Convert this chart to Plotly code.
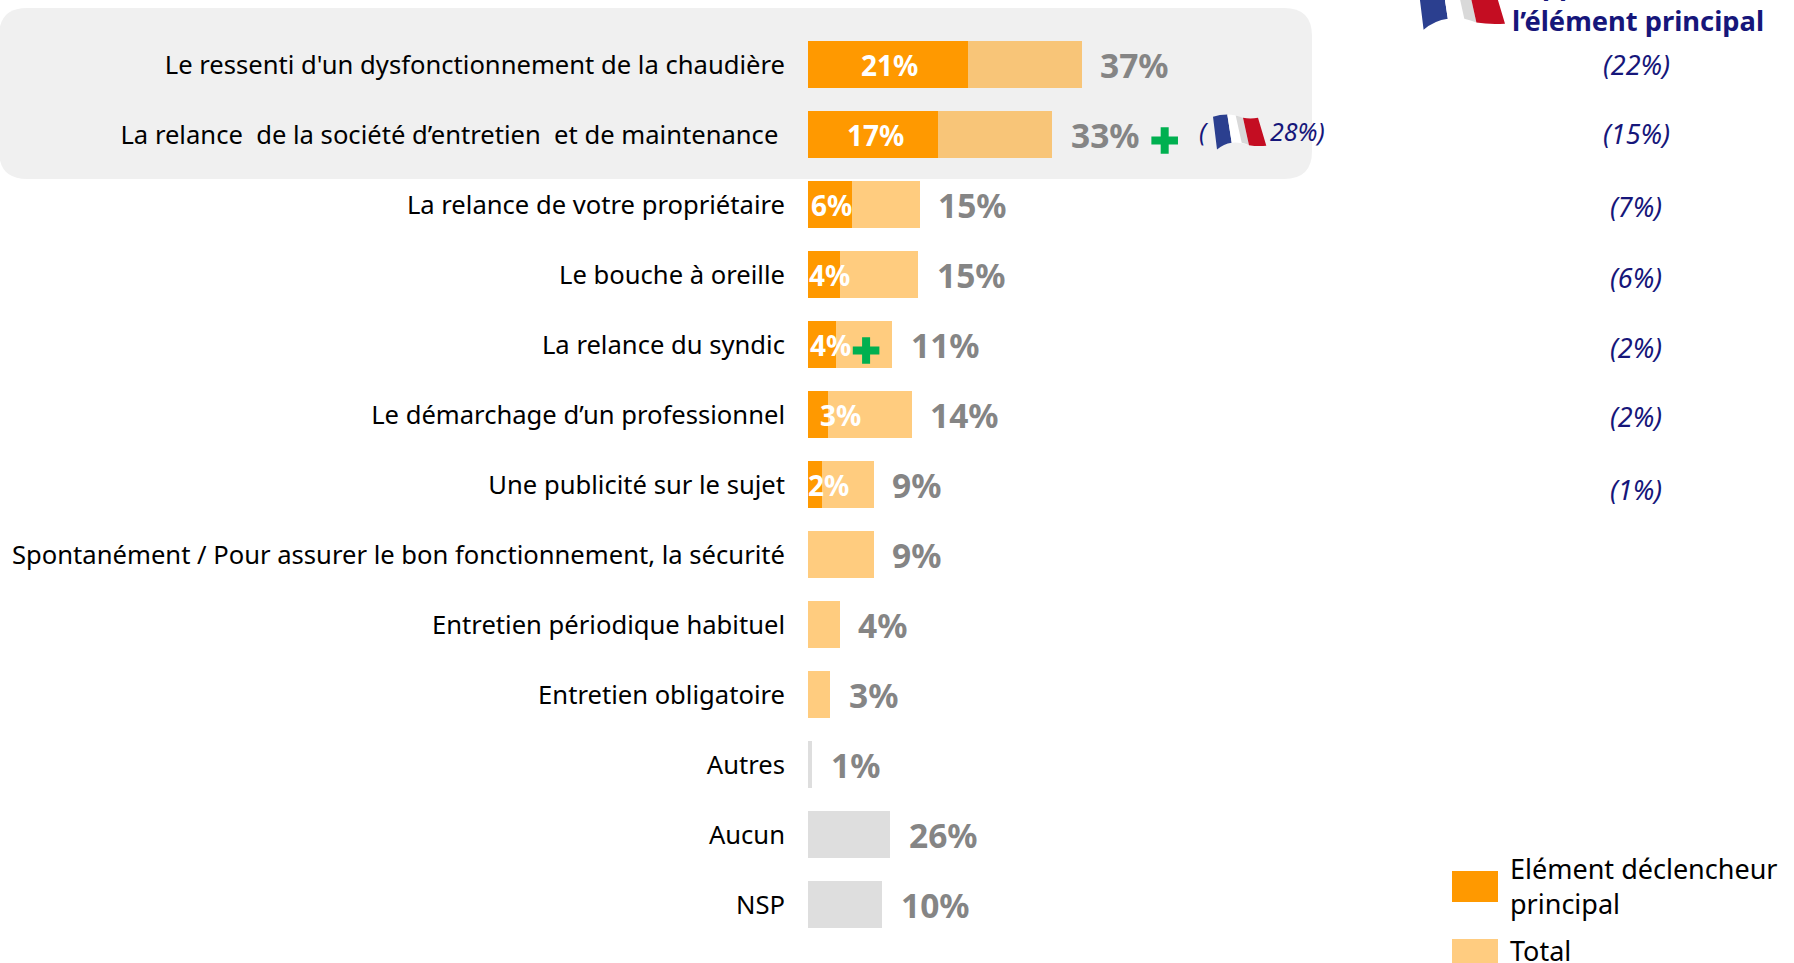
import plotly.graph_objects as go

W, H = 1794, 963
X0 = 808          # pixel of value 0
PX_PER_PCT = 7.4
ROW0, ROW_H = 64.5, 70

categories = [
    "Le ressenti d'un dysfonctionnement de la chaudière",
    "La relance\u00a0 de la société d’entretien\u00a0 et de maintenance\u00a0",
    "La relance de votre propriétaire",
    "Le bouche à oreille",
    "La relance du syndic",
    "Le démarchage d’un professionnel",
    "Une publicité sur le sujet",
    "Spontanément / Pour assurer le bon fonctionnement, la sécurité",
    "Entretien périodique habituel",
    "Entretien obligatoire",
    "Autres",
    "Aucun",
    "NSP",
]
# Bar lengths as drawn in the picture (Aucun is drawn shorter than its label)
total_len = [37, 33, 15.1, 14.9, 11.4, 14.05, 8.9, 8.9, 4.3, 3, 0.55, 11.1, 10]
main_len = [21.6, 17.6, 6, 4.3, 3.8, 2.7, 1.9]
total_labels = ["37%", "33%", "15%", "15%", "11%", "14%", "9%", "9%", "4%", "3%", "1%", "26%", "10%"]
main_labels = ["21%", "17%", "6%", "4%", "4%", "3%", "2%"]
main_label_px = [889, 875, 831, 829, 830, 840, 828]
france_labels = ["(22%)", "(15%)", "(7%)", "(6%)", "(2%)", "(2%)", "(1%)"]
france_dy = [0, -1, 2, 3, 3, 2, 5]
plus_rows = [1.085, 4.085]
plus_x = [48.2, 7.85]

ORANGE = "#FF9900"
LIGHT = "rgba(255,153,0,0.5)"
GREY = "#DEDEDE"
LABEL_GREY = "#858585"
NAVY = "#16167A"
FONT = "Noto Sans"

rows = list(range(len(categories)))
bar_colors = [LIGHT] * 10 + [GREY] * 3

fig = go.Figure()
fig.add_bar(y=rows, x=total_len, orientation="h", marker=dict(color=bar_colors, line_width=0),
            width=47.5 / ROW_H, showlegend=False, name="Total")
fig.add_bar(y=rows[:len(main_len)], x=main_len, orientation="h", marker=dict(color=ORANGE, line_width=0),
            width=47.5 / ROW_H, showlegend=False, name="Elément déclencheur principal")
fig.add_scatter(x=plus_x, y=plus_rows, mode="markers", showlegend=False,
                marker=dict(symbol="cross-thin", size=19, line=dict(color="#00B050", width=8)))
# invisible pixel-space trace for the overlay axes
fig.add_scatter(x=[0], y=[0], xaxis="x2", yaxis="y2", mode="markers", marker_opacity=0,
                showlegend=False, hoverinfo="skip")

ann = []
for r, (v, t) in enumerate(zip(total_len, total_labels)):
    ann.append(dict(x=v, y=r, xref="x", yref="y", text=f"<b>{t}</b>", xanchor="left", yanchor="middle",
                    xshift=16.5, yshift=0, showarrow=False, font=dict(family=FONT, size=33.5, color=LABEL_GREY)))
for r, (t, px) in enumerate(zip(main_labels, main_label_px)):
    ann.append(dict(x=px, y=ROW0 + ROW_H * r, xref="x2", yref="y2", text=f"<b>{t}</b>", xanchor="center",
                    yanchor="middle", showarrow=False, font=dict(family=FONT, size=28, color="white")))
for r, (t, dy) in enumerate(zip(france_labels, france_dy)):
    ann.append(dict(x=1636, y=ROW0 + ROW_H * r + dy, xref="x2", yref="y2", text=f"<i>{t}</i>", xanchor="center",
                    yanchor="middle", showarrow=False, font=dict(family=FONT, size=27, color=NAVY)))


def px_text(x, y, text, size, color, anchor="left", yanchor="middle", **kw):
    ann.append(dict(x=x, y=y, xref="x2", yref="y2", text=text, xanchor=anchor, yanchor=yanchor,
                    showarrow=False, align="left", font=dict(family=FONT, size=size, color=color), **kw))


px_text(1197, 131, "<i>(</i>", 25, NAVY)
px_text(1268, 131, "<i>28%)</i>", 25, NAVY)
px_text(1506, 5, "<b>Rappel</b>", 27, NAVY, yanchor="bottom")
px_text(1510, 20, "<b>l’élément principal</b>", 27.3, NAVY)
px_text(1508, 886, "Elément déclencheur<br>principal", 27, "black")
px_text(1508, 950, "Total", 27, "black")


def rect_path(x0, y0, x1, y1, r):
    return (f"M{x0+r},{y0} L{x1-r},{y0} Q{x1},{y0} {x1},{y0+r} L{x1},{y1-r} Q{x1},{y1} {x1-r},{y1} "
            f"L{x0+r},{y1} Q{x0},{y1} {x0},{y1-r} L{x0},{y0+r} Q{x0},{y0} {x0+r},{y0} Z")


def shape(path, color, layer="above"):
    return dict(type="path", xref="x2", yref="y2", path=path, fillcolor=color, line_width=0, layer=layer)


def flag(ox, oy, s):
    P = lambda x, y: f"{ox + x * s:.1f},{oy + y * s:.1f}"
    return [
        shape(f"M{P(0,7)} Q{P(20,0)} {P(43,0)} L{P(56,85)} Q{P(32,88)} {P(12,105)} Z", "#2B3F8F"),
        shape(f"M{P(43,0)} Q{P(65,0)} {P(90,10)} L{P(108,92)} Q{P(80,82)} {P(56,85)} Z", "#FFFFFF"),
        shape(f"M{P(68,3)} Q{P(80,5)} {P(90,10)} L{P(108,92)} Q{P(98,88)} {P(86,85)} Z", "#D9D9D9"),
        shape(f"M{P(90,10)} Q{P(112,14)} {P(135,10)} L{P(160,94)} Q{P(132,96)} {P(108,92)} Z", "#C40D22"),
    ]


shapes = [shape(rect_path(-1, 8, 1312, 179, 28), "#F0F0F0", "below")]
shapes += flag(1213, 114.5, 1 / 3)
shapes += flag(1417, -28, 0.55)
shapes += [
    dict(type="rect", xref="x2", yref="y2", x0=1452, x1=1498, y0=871, y1=902, fillcolor=ORANGE, line_width=0),
    dict(type="rect", xref="x2", yref="y2", x0=1452, x1=1498, y0=939, y1=963, fillcolor="#FFCC80", line_width=0),
]

fig.update_layout(
    width=W, height=H, autosize=False, margin=dict(l=0, r=0, t=0, b=0),
    paper_bgcolor="white", plot_bgcolor="rgba(0,0,0,0)", barmode="overlay", bargap=0,
    annotations=ann, shapes=shapes, hovermode=False,
    xaxis=dict(domain=[0, 1], range=[-X0 / PX_PER_PCT, (W - X0) / PX_PER_PCT], visible=False, fixedrange=True),
    yaxis=dict(domain=[0, 1], range=[(H - ROW0) / ROW_H, -ROW0 / ROW_H], tickmode="array",
               tickvals=[r + 0.012 for r in rows],
               ticktext=categories, ticks="", showgrid=False, zeroline=False, showline=False,
               anchor="free", position=X0 / W, automargin=False,
               ticklabelstandoff=23, tickfont=dict(family=FONT, size=25.6, color="black"), fixedrange=True),
    xaxis2=dict(domain=[0, 1], range=[0, W], visible=False, overlaying="x", fixedrange=True),
    yaxis2=dict(domain=[0, 1], range=[H, 0], visible=False, overlaying="y", fixedrange=True),
)
fig.write_html("out.html", config=dict(displayModeBar=False, responsive=False),
               post_script="document.body.style.margin='0';document.body.style.overflow='hidden';")
